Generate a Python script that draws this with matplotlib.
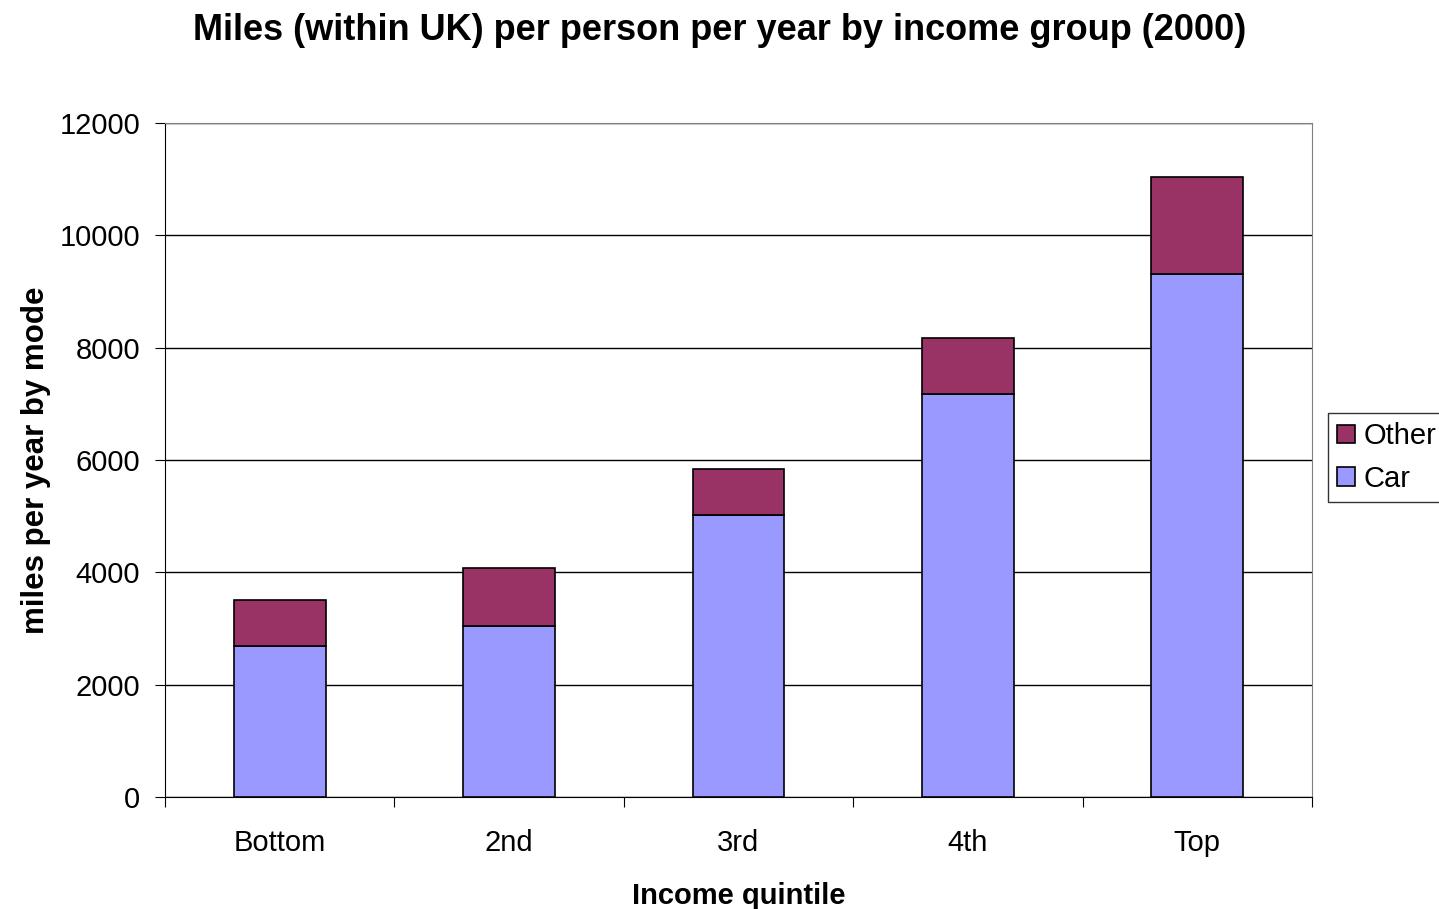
import numpy as np
import matplotlib.pyplot as plt

plt.rcParams['font.family'] = ['Liberation Sans', 'DejaVu Sans']

quintiles = ["Bottom", "2nd", "3rd", "4th", "Top"]
car = [2690, 3045, 5020, 7175, 9310]
other = [820, 1030, 820, 1000, 1730]

fig = plt.figure(figsize=(14.39, 9.09), dpi=100)
ax = fig.add_axes([165/1439, 1 - 797/909, (1312 - 165)/1439, (797 - 123)/909])

x = np.arange(len(quintiles))
ax.bar(x, car, width=0.4, color='#9999ff', edgecolor='black', linewidth=1.2, label='Car', zorder=3)
ax.bar(x, other, width=0.4, bottom=car, color='#993366', edgecolor='black', linewidth=1.2, label='Other', zorder=3)

ax.set_xlim(-0.5, 4.5)
ax.set_ylim(0, 12000)
ax.set_yticks(range(0, 12001, 2000))
ax.yaxis.grid(True, color='black', linewidth=1, zorder=0)
ax.set_xticks(np.arange(-0.5, 5, 1))
ax.set_xticklabels([])
ax.set_xticks(x, minor=True)
ax.set_xticklabels(quintiles, minor=True)
ax.tick_params(axis='x', which='minor', length=0, pad=23, labelsize=21)
ax.tick_params(axis='x', which='major', length=7, direction='out')
ax.tick_params(axis='y', length=7, direction='out', labelsize=21, pad=11)

for s in ['top', 'right']:
    ax.spines[s].set_color('#808080')
ax.spines['left'].set_color('black')
ax.spines['bottom'].set_color('black')

ax.set_xlabel("Income quintile", fontsize=21, fontweight='bold', labelpad=18)
ax.set_ylabel("miles per year by mode", fontsize=22.5, fontweight='bold', labelpad=6)
fig.suptitle("Miles (within UK) per person per year by income group (2000)",
             fontsize=26, fontweight='bold', x=0.5, y=0.986)

h, l = ax.get_legend_handles_labels()
fig.legend(h[::-1], l[::-1], loc='upper left', bbox_to_anchor=(1328/1439, 1 - 413/909),
           fontsize=21, frameon=True, fancybox=False, edgecolor='black',
           handlelength=0.6, handleheight=0.6, handletextpad=0.3, borderpad=0.32,
           labelspacing=0.5, borderaxespad=0)

fig.savefig("out.png", dpi=100)
